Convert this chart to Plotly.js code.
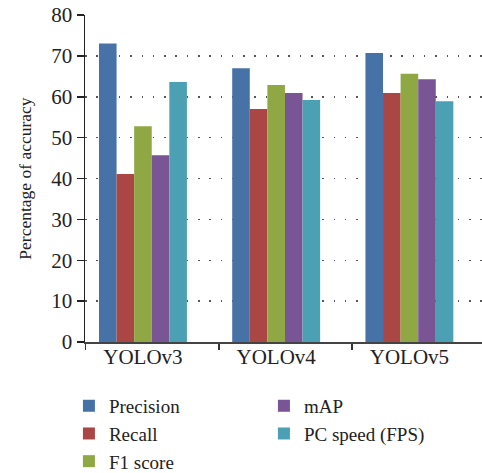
<!DOCTYPE html>
<html>
<head>
<meta charset="utf-8">
<script src="https://cdn.plot.ly/plotly-3.0.1.min.js"></script>
<style>html,body{margin:0;padding:0;background:#fff;}#chart{width:482px;height:473px;}</style>
</head>
<body>
<div id="chart"></div>
<script>
var categories = ["YOLOv3", "YOLOv4", "YOLOv5"];
var seriesNames = ["Precision", "Recall", "F1 score", "mAP", "PC speed (FPS)"];
var precision = [73.0, 67.0, 70.7];
var recall = [41.1, 57.0, 60.9];
var f1score = [52.8, 62.9, 65.6];
var mAP = [45.7, 60.9, 64.3];
var pcSpeed = [63.6, 59.2, 58.9];
var yTicks = [0, 10, 20, 30, 40, 50, 60, 70, 80];

var colors = ["#4672A8", "#AA4643", "#8FA843", "#7A5595", "#4CA0B3"];
var legendRanks = [1, 3, 5, 2, 4];
var values = [precision, recall, f1score, mAP, pcSpeed];
var xIdx = categories.map(function(c, i){ return i; });

var traces = values.map(function(v, i){
  return {
    type: "bar",
    x: xIdx,
    y: v,
    name: seriesNames[i],
    marker: {color: colors[i], line: {width: 0}},
    legendrank: legendRanks[i],
    hoverinfo: "skip"
  };
});
traces.push({type: "scatter", x: [0], y: [0], xaxis: "x2", mode: "none", showlegend: false, hoverinfo: "skip"});

var fam = "Liberation Serif, DejaVu Serif, serif";
var txt = "#222";
var fs = 21;

var layout = {
  width: 482, height: 473,
  margin: {l: 85, r: 0, t: 15, b: 131},
  paper_bgcolor: "#fff", plot_bgcolor: "#fff",
  font: {family: fam, size: fs, color: txt},
  barmode: "group",
  bargap: 0.34,
  bargroupgap: 0,
  showlegend: true,
  legend: {
    orientation: "h",
    xref: "container",
    x: 0.143, xanchor: "left",
    yref: "container",
    y: 0.182, yanchor: "top",
    entrywidth: 150, entrywidthmode: "pixels",
    traceorder: "normal",
    tracegroupgap: 0,
    font: {family: fam, size: 19, color: txt},
    itemclick: false
  },
  xaxis: {
    range: [-0.435, 2.545],
    tickvals: xIdx,
    ticktext: categories,
    ticks: "",
    showgrid: false,
    zeroline: false,
    showline: false,
    tickfont: {family: fam, size: fs, color: txt},
    fixedrange: true
  },
  xaxis2: {
    overlaying: "x",
    matches: "x",
    range: [-0.435, 2.545],
    tickvals: [-0.43, 0.57, 1.57],
    showticklabels: false,
    ticks: "outside",
    ticklen: 6,
    tickwidth: 1.5,
    tickcolor: "#333",
    showgrid: false,
    zeroline: false,
    showline: true,
    linecolor: "#444",
    linewidth: 1.5,
    anchor: "y",
    side: "bottom"
  },
  yaxis: {
    range: [0, 80],
    tickvals: yTicks,
    ticks: "outside",
    ticklen: 7,
    tickwidth: 1.5,
    tickcolor: "#222",
    showline: true,
    linecolor: "#222",
    linewidth: 1.5,
    showgrid: true,
    gridcolor: "#555",
    gridwidth: 1.5,
    griddash: "1.5px,9.8px",
    zeroline: false,
    tickfont: {family: fam, size: fs, color: txt},
    title: {text: "Percentage of accuracy", font: {family: fam, size: 17.5, color: txt}, standoff: 15},
    fixedrange: true
  }
};

Plotly.newPlot("chart", traces, layout, {displayModeBar: false, staticPlot: true});
</script>
</body>
</html>
